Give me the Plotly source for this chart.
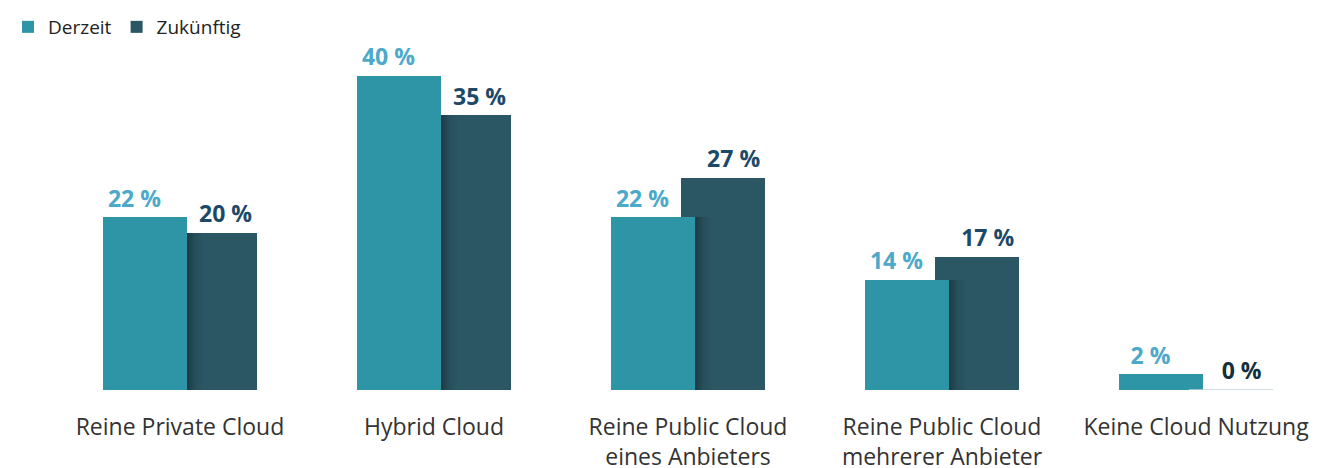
import plotly.graph_objects as go

categories = ["Reine Private Cloud", "Hybrid Cloud", "Reine Public Cloud<br>eines Anbieters",
              "Reine Public Cloud<br>mehrerer Anbieter", "Keine Cloud Nutzung"]
derzeit = [22, 40, 22, 14, 2]
zukuenftig = [20, 35, 27, 17, 0]

C_D = "#2E95A7"
C_Z = "#2B5664"
FONT = "Open Sans"

idx = list(range(len(categories)))
W = 0.331
OFF_D = -0.303
OFF_Z = -0.028
LBL_SHIFT = 0.042   # horizontal nudge of value labels (axis units)
LBL_LIFT = 2.1      # vertical gap of label centre above bar top (axis units)

fig = go.Figure()

# Zukünftig (behind)
fig.add_trace(go.Bar(
    x=idx, y=zukuenftig, name="Zukünftig", width=W, offset=OFF_Z,
    marker=dict(color=C_Z, line=dict(width=0)),
    legendrank=2, hoverinfo="y",
))

# drop shadow of front bars (over the rear bar)
shadow_h = [min(a, b) for a, b in zip(derzeit, zukuenftig)]
alphas = [0.42, 0.32, 0.24, 0.17, 0.11, 0.07, 0.04, 0.02]
sw = 0.008
for k, a in enumerate(alphas):
    fig.add_trace(go.Bar(
        x=idx, y=shadow_h, width=sw, offset=OFF_D + W + k * sw,
        marker=dict(color=f"rgba(10,25,30,{a})", line=dict(width=0)),
        showlegend=False, hoverinfo="skip",
    ))

# Derzeit (front)
fig.add_trace(go.Bar(
    x=idx, y=derzeit, name="Derzeit", width=W, offset=OFF_D,
    marker=dict(color=C_D, line=dict(width=0)),
    legendrank=1, hoverinfo="y",
))

# value labels
fig.add_trace(go.Scatter(
    x=[i + OFF_D + W / 2 - LBL_SHIFT for i in idx], y=[v + LBL_LIFT for v in derzeit],
    mode="text", text=[f"{v} %" for v in derzeit], textposition="middle center",
    textfont=dict(family=FONT, size=23, weight="bold", color="#4DA9C9"),
    showlegend=False, hoverinfo="skip", cliponaxis=False,
))
fig.add_trace(go.Scatter(
    x=[i + OFF_Z + W / 2 + LBL_SHIFT for i in idx], y=[v + LBL_LIFT for v in zukuenftig],
    mode="text", text=[f"{v} %" for v in zukuenftig], textposition="middle center",
    textfont=dict(family=FONT, size=23, weight="bold",
                  color=["#1D4968" if v > 0 else "#142F3C" for v in zukuenftig]),
    showlegend=False, hoverinfo="skip", cliponaxis=False,
))

# thin baseline for zero-valued rear bars
for i, v in zip(idx, zukuenftig):
    if v == 0:
        fig.add_shape(type="line", xref="x", yref="y",
                      x0=i + OFF_Z, x1=i + OFF_Z + W, y0=0, y1=0,
                      line=dict(color="#C3D3DD", width=1.5))

fig.update_layout(
    width=1311, height=460,
    barmode="overlay",
    paper_bgcolor="white", plot_bgcolor="white",
    margin=dict(l=0, r=0, t=0, b=78),
    font=dict(family=FONT, color="#333333"),
    legend=dict(orientation="h", x=0, y=1.0, xanchor="left", yanchor="top",
                font=dict(family=FONT, size=19, color="#222222"),
                itemsizing="constant", traceorder="normal", itemwidth=30),
    xaxis=dict(range=[-0.677, 4.484], tickmode="array", tickvals=idx, ticktext=categories,
               showgrid=False, zeroline=False, showline=False, ticks="",
               ticklabelstandoff=21, automargin=False,
               tickfont=dict(family=FONT, size=23, color="#333333"), fixedrange=True),
    yaxis=dict(range=[0, 48.66], visible=False, fixedrange=True),
    bargap=0,
)

fig.write_html("out.html")
